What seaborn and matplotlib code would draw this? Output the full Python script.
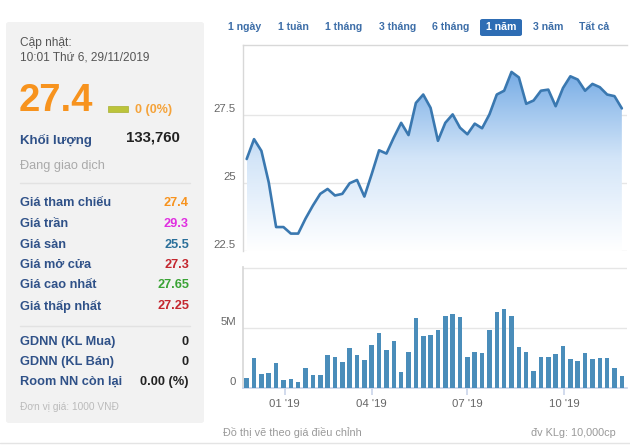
import matplotlib
matplotlib.use("Agg")
import matplotlib.pyplot as plt
from matplotlib.colors import LinearSegmentedColormap
from matplotlib.lines import Line2D
from matplotlib.patches import Rectangle, FancyBboxPatch
import numpy as np
import pandas as pd
import seaborn as sns

# Weekly closing price (x1000 VND), Nov 2018 - Nov 2019
price = [25.88, 26.61, 26.18, 25.02, 23.38, 23.38, 23.14, 23.14, 23.69, 24.17,
         24.60, 24.78, 24.54, 24.60, 24.99, 25.11, 24.50, 25.33, 26.20, 26.08,
         26.67, 27.21, 26.76, 27.94, 28.25, 27.76, 26.55, 27.21, 27.52, 27.03,
         26.79, 27.18, 27.01, 27.52, 28.25, 28.39, 29.08, 28.88, 27.91, 28.03,
         28.39, 28.43, 27.82, 28.49, 28.92, 28.80, 28.39, 28.64, 28.52, 28.25,
         28.19, 27.74]

# Weekly volume, millions of shares
volume_m = [0.84, 2.53, 1.15, 1.21, 2.05, 0.65, 0.73, 0.48, 1.63, 1.12,
            1.12, 2.78, 2.61, 2.13, 3.34, 2.78, 2.30, 3.60, 4.58, 3.20,
            3.93, 1.32, 3.03, 5.79, 4.30, 4.38, 4.80, 5.96, 6.20, 5.90,
            2.56, 3.03, 2.95, 4.80, 6.29, 6.60, 5.96, 3.43, 3.03, 1.40,
            2.56, 2.61, 2.84, 3.51, 2.44, 2.22, 2.95, 2.44, 2.53, 2.53,
            1.63, 0.98]

# trading weeks (Tet holiday week has no data)
week_starts = [d for d in pd.date_range("2018-11-26", "2019-11-25", freq="W-MON")
               if d != pd.Timestamp("2019-02-04")]
tick_dates = ["2019-01-01", "2019-04-01", "2019-07-01", "2019-10-01"]
tick_labels = ["01 '19", "04 '19", "07 '19", "10 '19"]

price_ticks = [22.5, 25, 27.5]
price_tick_labels = ["22.5", "25", "27.5"]
vol_ticks = [0, 5, 10]
vol_tick_labels = ["0", "5M", ""]

range_buttons = ["1 ngày", "1 tuần", "1 tháng", "3 tháng", "6 tháng", "1 năm", "3 năm", "Tất cả"]
button_x = [245, 293, 344, 398, 451, 501, 548, 594]
active_button = "1 năm"

stat_labels = ["Giá tham chiếu", "Giá trần", "Giá sàn", "Giá mở cửa", "Giá cao nhất", "Giá thấp nhất"]
stat_values = ["27.4", "29.3", "25.5", "27.3", "27.65", "27.25"]
stat_colors = ["#f7931e", "#e02ee0", "#2a6f9a", "#c4262e", "#3aa335", "#c4262e"]
foreign_labels = ["GDNN (KL Mua)", "GDNN (KL Bán)", "Room NN còn lại"]
foreign_values = ["0", "0", "0.00 (%)"]

W, H = 630, 446
LINE_C = "#3a78b0"
BAR_C = "#4a8dba"
GRID_C = "#e6e6e6"
LABEL_BLUE = "#2f5188"

sns.set_theme(style="white")
plt.rcParams["font.family"] = ["Liberation Sans", "DejaVu Sans"]


def fx(x):
    return x / W


def fy(y):
    return 1 - y / H


fig = plt.figure(figsize=(W / 100, H / 100), dpi=100)
fig.patch.set_facecolor("white")

idx = np.arange(len(price))
wk_ord = np.array([d.toordinal() for d in week_starts])
tick_pos = [np.interp(pd.Timestamp(t).toordinal(), wk_ord, idx) for t in tick_dates]
xlim = (-0.5, 51.7)

# ---- price pane ----
ax_p = fig.add_axes([fx(243), fy(251), fx(627) - fx(243), fy(45) - fy(251)])
sns.lineplot(x=idx, y=price, ax=ax_p, color=LINE_C, linewidth=1.9, zorder=3)
ax_p.set_xlim(*xlim)
ax_p.set_ylim(22.5, 30.07)

poly = ax_p.fill_between(idx, price, 22.5, color="none", lw=0)
cmap = LinearSegmentedColormap.from_list("fillgrad", ["#ffffff", "#d3e5f8", "#70a8e4"])
grad = np.linspace(0, 1, 256).reshape(-1, 1)
im = ax_p.imshow(grad, cmap=cmap, aspect="auto", origin="lower",
                 extent=[idx[0], idx[-1], 22.5, 29.3], zorder=2)
im.set_clip_path(poly.get_paths()[0], transform=ax_p.transData)
ax_p.set_xlim(*xlim)
ax_p.set_ylim(22.5, 30.07)

for v in price_ticks:
    ax_p.axhline(v, color=GRID_C, lw=1, zorder=1)
ax_p.set_xticks([])
ax_p.set_yticks([])
for s in ["right", "bottom"]:
    ax_p.spines[s].set_visible(False)
for s in ["left", "top"]:
    ax_p.spines[s].set_color("#d8d8d8")
    ax_p.spines[s].set_linewidth(1)
for v, lbl in zip(price_ticks, price_tick_labels):
    ax_p.annotate(lbl, xy=(0, v), xycoords=ax_p.get_yaxis_transform(),
                  xytext=(-7, 6), textcoords="offset pixels",
                  ha="right", va="center", fontsize=8.2, color="#666666")

# ---- volume pane ----
ax_v = fig.add_axes([fx(243), fy(388), fx(627) - fx(243), fy(267) - fy(388)])
sns.barplot(x=idx, y=volume_m, ax=ax_v, color=BAR_C, saturation=1, width=0.62,
            linewidth=0, zorder=3)
ax_v.set_xlim(*xlim)
ax_v.set_ylim(0, 10.08)
for v in vol_ticks:
    ax_v.axhline(v, color=GRID_C, lw=1, zorder=1)
ax_v.set_yticks([])
ax_v.set_xticks(tick_pos)
ax_v.set_xticklabels(tick_labels, fontsize=8.2, color="#666666")
ax_v.tick_params(axis="x", length=5, color="#ccd6eb", pad=3, bottom=True)
ax_v.set_xlabel("")
ax_v.set_ylabel("")
for s in ["right", "top"]:
    ax_v.spines[s].set_visible(False)
ax_v.spines["left"].set_color("#d8d8d8")
ax_v.spines["bottom"].set_color("#ccd6eb")
for v, lbl in zip(vol_ticks, vol_tick_labels):
    ax_v.annotate(lbl, xy=(0, v), xycoords=ax_v.get_yaxis_transform(),
                  xytext=(-7, 6), textcoords="offset pixels",
                  ha="right", va="center", fontsize=8.2, color="#666666")

# ---- range buttons ----
for lbl, bx in zip(range_buttons, button_x):
    if lbl == active_button:
        fig.patches.append(FancyBboxPatch((fx(480), fy(36)), fx(522) - fx(480), fy(19) - fy(36),
                                          boxstyle="round,pad=0,rounding_size=0.004",
                                          transform=fig.transFigure, facecolor="#2e6db4",
                                          edgecolor="none"))
        fig.text(fx(bx), fy(27.5), lbl, ha="center", va="center", fontsize=7.6,
                 fontweight="bold", color="white")
    else:
        fig.text(fx(bx), fy(27.5), lbl, ha="center", va="center", fontsize=7.6,
                 fontweight="bold", color="#3d6ea8")

# ---- footer ----
fig.text(fx(223), fy(433), "Đồ thị vẽ theo giá điều chỉnh", ha="left", va="center",
         fontsize=7.8, color="#999999")
fig.text(fx(616), fy(433), "đv KLg: 10,000cp", ha="right", va="center",
         fontsize=7.8, color="#999999")
fig.add_artist(Line2D([fx(0), fx(630)], [fy(443), fy(443)], color="#e4e4e4", lw=1,
                      transform=fig.transFigure))

# ---- left info panel ----
fig.patches.append(FancyBboxPatch((fx(6), fy(423)), fx(204) - fx(6), fy(22) - fy(423),
                                  boxstyle="round,pad=0,rounding_size=0.005",
                                  transform=fig.transFigure, facecolor="#f2f2f2",
                                  edgecolor="none", zorder=0))
fig.text(fx(20), fy(43), "Cập nhật:", fontsize=8.6, color="#555555", va="center")
fig.text(fx(20), fy(57), "10:01 Thứ 6, 29/11/2019", fontsize=8.6, color="#555555", va="center")
fig.text(fx(19), fy(101), "27.4", fontsize=27.5, fontweight="bold", color="#f7931e", va="center")
fig.patches.append(Rectangle((fx(108), fy(112)), fx(128) - fx(108), fy(106) - fy(112),
                             transform=fig.transFigure, facecolor="#bcc43a",
                             edgecolor="#a8b030", lw=0.5))
fig.text(fx(135), fy(110), "0 (0%)", fontsize=9, fontweight="bold", color="#f5a33a", va="center")
fig.text(fx(20), fy(140), "Khối lượng", fontsize=9.5, fontweight="bold", color=LABEL_BLUE, va="center")
fig.text(fx(180), fy(138), "133,760", fontsize=10.8, fontweight="bold", color="#222222",
         va="center", ha="right")
fig.text(fx(20), fy(166), "Đang giao dịch", fontsize=9.2, color="#aaaaaa", va="center")
fig.add_artist(Line2D([fx(20), fx(190)], [fy(183), fy(183)], color="#e2e2e2", lw=1,
                      transform=fig.transFigure))

stat_y = [203, 224, 245, 265, 285, 306]
for lbl, val, col, yy in zip(stat_labels, stat_values, stat_colors, stat_y):
    fig.text(fx(20), fy(yy), lbl, fontsize=9.2, fontweight="bold", color=LABEL_BLUE, va="center")
    fig.text(fx(189), fy(yy), val, fontsize=9.2, fontweight="bold", color=col,
             va="center", ha="right")
fig.add_artist(Line2D([fx(20), fx(190)], [fy(326), fy(326)], color="#e2e2e2", lw=1,
                      transform=fig.transFigure))

foreign_y = [342, 362, 382]
for lbl, val, yy in zip(foreign_labels, foreign_values, foreign_y):
    fig.text(fx(20), fy(yy), lbl, fontsize=9.2, fontweight="bold", color=LABEL_BLUE, va="center")
    fig.text(fx(189), fy(yy), val, fontsize=9.2, fontweight="bold", color="#222222",
             va="center", ha="right")
fig.text(fx(20), fy(407), "Đơn vị giá: 1000 VNĐ", fontsize=7.3, color="#bbbbbb", va="center")

fig.savefig("out.png", dpi=100)
plt.close(fig)
